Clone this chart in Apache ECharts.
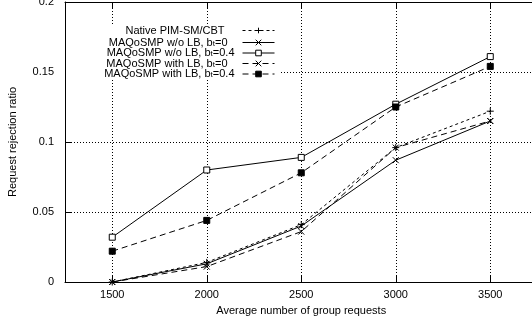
<!DOCTYPE html>
<html>
<head>
<meta charset="utf-8">
<script src="https://cdn.jsdelivr.net/npm/echarts@6/dist/echarts.min.js"></script>
<style>
  html, body { margin: 0; padding: 0; background: #fff; }
  #chart { width: 532px; height: 323px; }
</style>
</head>
<body>
<div id="chart"></div>
<script>
// Group request load (x) and rejection ratios per scheme
const requests = [1500, 2000, 2500, 3000, 3500];
const xTicks = [1500, 2000, 2500, 3000, 3500];

const nativeCbt   = [0.000, 0.014, 0.041, 0.096, 0.122];
const noLbBt0     = [0.000, 0.013, 0.040, 0.087, 0.115];
const noLbBt04    = [0.032, 0.080, 0.089, 0.127, 0.161];
const withLbBt0   = [0.000, 0.011, 0.036, 0.096, 0.115];
const withLbBt04  = [0.022, 0.044, 0.078, 0.125, 0.154];

const names = [
  'Native PIM-SM/CBT',
  'MAQoSMP w/o LB, b_t=0',
  'MAQoSMP w/o LB, b_t=0.4',
  'MAQoSMP with LB, b_t=0',
  'MAQoSMP with LB, b_t=0.4'
];

const FONT = '"Liberation Sans", Arial, Helvetica, sans-serif';
const PLUS = 'path://M0,4L8,4M4,0L4,8';
const CROSS = 'path://M0,0L8,8M8,0L0,8';

// key rows: vertical centre of each entry, and extra space after its text
const keyRowY = [30, 40.5, 51, 61.5, 72];
const keyPad = [13, 10, 3, 10, 3];

function pairs(vals) {
  return requests.map((x, i) => [x, vals[i]]);
}

function keyLabel(name) {
  const parts = name.split('_t');
  const pad = '{p| }';
  if (parts.length === 1) return '{n|' + name + '}' + pad;
  return '{n|' + parts[0] + '}{s|t}{n|' + parts[1] + '}' + pad;
}

function keyLegend(i) {
  return {
    data: [names[i]],
    orient: 'vertical',
    align: 'right',
    right: 257,
    top: keyRowY[i] - 5,
    padding: 0,
    itemWidth: 32,
    itemHeight: 7,
    selectedMode: false,
    formatter: keyLabel,
    lineStyle: { width: 1 },
    itemStyle: { borderWidth: 1 },
    textStyle: {
      fontSize: 11,
      fontFamily: FONT,
      color: '#000',
      rich: {
        n: { fontSize: 11, fontFamily: FONT, color: '#000', lineHeight: 10 },
        s: { fontSize: 8, fontFamily: FONT, color: '#000', lineHeight: 6, padding: [4, 0, 0, 0], verticalAlign: 'bottom' },
        p: { width: keyPad[i], fontSize: 11, lineHeight: 10 }
      }
    },
    z: 10
  };
}

function lineSeries(name, vals, symbol, size, dash, fill) {
  return {
    name: name,
    type: 'line',
    data: pairs(vals),
    symbol: symbol,
    symbolSize: size,
    showAllSymbol: true,
    lineStyle: { color: '#000', width: 1, type: dash },
    itemStyle: { color: fill, borderColor: '#000', borderWidth: 1 },
    emphasis: { disabled: true },
    animation: false,
    z: 3
  };
}

const chart = echarts.init(document.getElementById('chart'), null, { renderer: 'canvas' });

chart.setOption({
  backgroundColor: '#fff',
  animation: false,
  grid: { left: 65, top: 2, width: 472.5, height: 280, containLabel: false, outerBoundsMode: 'none' },
  // white panel behind the key so the grid does not show through it
  graphic: [{
    type: 'rect',
    shape: { x: 66, y: 25, width: 214, height: 55 },
    style: { fill: '#fff' },
    z: 5,
    silent: true
  }],
  legend: names.map((n, i) => keyLegend(i)),
  xAxis: [
    {
      type: 'value',
      position: 'bottom',
      min: 1250,
      max: 3750,
      name: 'Average number of group requests',
      nameLocation: 'middle',
      nameGap: 23,
      nameTextStyle: { fontSize: 11, fontFamily: FONT, color: '#000' },
      axisLine: { show: true, lineStyle: { color: '#000', width: 1 } },
      axisTick: { show: true, inside: true, length: 6, customValues: xTicks, lineStyle: { color: '#000' } },
      axisLabel: { show: true, customValues: xTicks, formatter: v => String(v), margin: 7, fontSize: 11, fontFamily: FONT, color: '#000' },
      splitLine: { show: true, lineStyle: { color: '#000', width: 1, type: [1, 2] } }
    },
    {
      type: 'value',
      position: 'top',
      min: 1250,
      max: 3750,
      axisLine: { show: true, lineStyle: { color: '#000', width: 1 } },
      axisTick: { show: true, inside: true, length: 6, customValues: xTicks, lineStyle: { color: '#000' } },
      axisLabel: { show: false },
      splitLine: { show: false }
    }
  ],
  yAxis: {
    type: 'value',
    min: 0,
    max: 0.2,
    interval: 0.05,
    name: 'Request rejection ratio',
    nameLocation: 'middle',
    nameGap: 47,
    nameTextStyle: { fontSize: 11, fontFamily: FONT, color: '#000' },
    axisLine: { show: true, lineStyle: { color: '#000', width: 1 } },
    axisTick: { show: true, inside: true, length: 6, lineStyle: { color: '#000' } },
    axisLabel: { margin: 11, fontSize: 11, fontFamily: FONT, color: '#000' },
    splitLine: { show: true, lineStyle: { color: '#000', width: 1, type: [1, 2] } }
  },
  series: [
    lineSeries(names[0], nativeCbt, PLUS, 7, [3, 3], '#000'),
    lineSeries(names[1], noLbBt0, CROSS, 6, 'solid', '#000'),
    lineSeries(names[2], noLbBt04, 'rect', 6, 'solid', '#fff'),
    lineSeries(names[3], withLbBt0, CROSS, 6, [6, 4], '#000'),
    lineSeries(names[4], withLbBt04, 'rect', 6, [6, 4], '#000')
  ]
});
</script>
</body>
</html>
